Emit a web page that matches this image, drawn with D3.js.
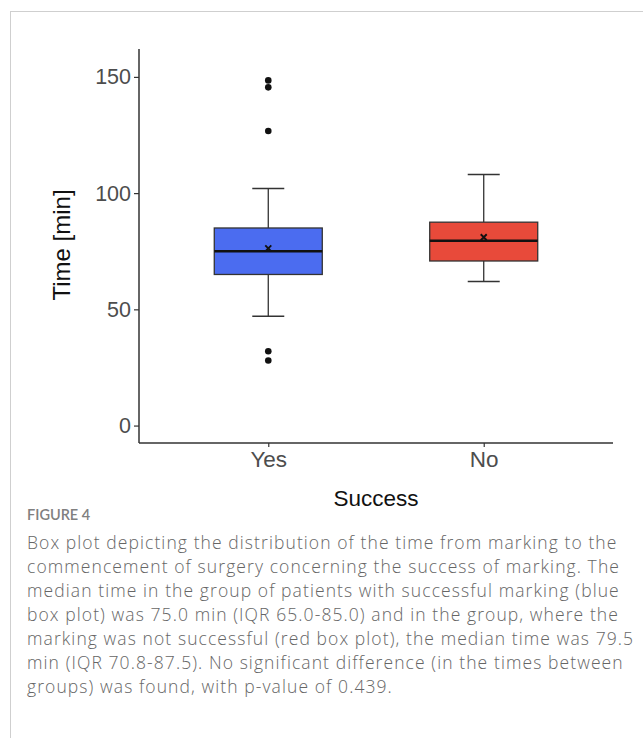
<!DOCTYPE html>
<html><head><meta charset="utf-8">
<script src="https://cdn.jsdelivr.net/npm/d3@7"></script>
<style>
body{margin:0;background:#fff;}
svg{display:block;}
</style></head>
<body>
<svg id="chart" width="643" height="738"></svg>
<script>
const categories = ["Yes", "No"];
const whiskerLow = [47, 62];
const q1 = [65, 70.8];
const medians = [75, 79.5];
const q3 = [85, 87.5];
const whiskerHigh = [102, 108];
const means = [76.2, 81];
const outliers = [[28, 32, 126.7, 145.5, 148.5], []];
const fills = ["#4b6cf0", "#e84a3a"];
const yTicks = [0, 50, 100, 150];
const captionTitle = "FIGURE 4";
const captionLines = [
  "Box plot depicting the distribution of the time from marking to the",
  "commencement of surgery concerning the success of marking. The",
  "median time in the group of patients with successful marking (blue",
  "box plot) was 75.0 min (IQR 65.0-85.0) and in the group, where the",
  "marking was not successful (red box plot), the median time was 79.5",
  "min (IQR 70.8-87.5). No significant difference (in the times between",
  "groups) was found, with p-value of 0.439."
];

const svg = d3.select("#chart");
svg.append("line").attr("x1",10).attr("y1",11.5).attr("x2",643).attr("y2",11.5).attr("stroke","#cfcfcf").attr("stroke-width",1);
svg.append("line").attr("x1",10.5).attr("y1",11).attr("x2",10.5).attr("y2",738).attr("stroke","#cfcfcf").attr("stroke-width",1);

const pL = 139, pR = 613, pT = 49, pB = 443;
const x = d3.scalePoint().domain(categories).range([pL, pR]).padding(0.6);
const y = d3.scaleLinear().domain([-7.5, 162]).range([pB, pT]);

const g = svg.append("g");
const boxW = 108, capW = 32;
const AX = "Liberation Sans, Arial, sans-serif";

categories.forEach((c, i) => {
  const cx = x(c);
  const gg = g.append("g");
  gg.append("line").attr("x1",cx).attr("x2",cx).attr("y1",y(q3[i])).attr("y2",y(whiskerHigh[i])).attr("stroke","#333").attr("stroke-width",1.3);
  gg.append("line").attr("x1",cx).attr("x2",cx).attr("y1",y(q1[i])).attr("y2",y(whiskerLow[i])).attr("stroke","#333").attr("stroke-width",1.3);
  gg.append("line").attr("x1",cx-capW/2).attr("x2",cx+capW/2).attr("y1",y(whiskerHigh[i])).attr("y2",y(whiskerHigh[i])).attr("stroke","#333").attr("stroke-width",1.6);
  gg.append("line").attr("x1",cx-capW/2).attr("x2",cx+capW/2).attr("y1",y(whiskerLow[i])).attr("y2",y(whiskerLow[i])).attr("stroke","#333").attr("stroke-width",1.6);
  gg.append("rect").attr("x",cx-boxW/2).attr("y",y(q3[i])).attr("width",boxW).attr("height",y(q1[i])-y(q3[i]))
    .attr("fill",fills[i]).attr("stroke","#333").attr("stroke-width",1.3);
  gg.append("line").attr("x1",cx-boxW/2).attr("x2",cx+boxW/2).attr("y1",y(medians[i])).attr("y2",y(medians[i])).attr("stroke","#111").attr("stroke-width",2.6);
  const my = y(means[i]), s = 3;
  gg.append("path").attr("d",`M${cx-s},${my-s}L${cx+s},${my+s}M${cx-s},${my+s}L${cx+s},${my-s}`).attr("stroke","#111").attr("stroke-width",1.9);
  gg.selectAll("circle").data(outliers[i]).join("circle").attr("cx",cx).attr("cy",d=>y(d)).attr("r",3.3).attr("fill","#111");
});

const yAxis = d3.axisLeft(y).tickValues(yTicks).tickSize(5).tickPadding(3);
const ya = svg.append("g").attr("transform",`translate(${pL},0)`).call(yAxis);
ya.select(".domain").attr("d",`M0,${pT}V${pB}`).attr("stroke","#333").attr("stroke-width",1.5);
ya.selectAll(".tick line").attr("stroke","#333").attr("stroke-width",1.2);
ya.selectAll(".tick text").attr("font-family",AX).attr("font-size",21.5).attr("fill","#4d4d4d");

const xAxis = d3.axisBottom(x).tickSize(4).tickPadding(4);
const xa = svg.append("g").attr("transform",`translate(0,${pB})`).call(xAxis);
xa.select(".domain").attr("d",`M${pL},0H${pR}`).attr("stroke","#333").attr("stroke-width",1.5);
xa.selectAll(".tick line").attr("stroke","#333").attr("stroke-width",1.2);
xa.selectAll(".tick text").attr("font-family",AX).attr("font-size",22.5).attr("fill","#4d4d4d");

svg.append("text").attr("transform","translate(70,245) rotate(-90)").attr("text-anchor","middle")
  .attr("font-family",AX).attr("font-size",24).attr("fill","#111").text("Time [min]");
svg.append("text").attr("x",376).attr("y",506).attr("text-anchor","middle")
  .attr("font-family",AX).attr("font-size",22.5).attr("fill","#111").text("Success");

svg.append("text").attr("x",27).attr("y",520).attr("font-family","Lato, sans-serif").attr("font-size",14.5).attr("font-weight",600)
  .attr("fill","#808080").text(captionTitle);
const cap = svg.append("g").selectAll("text").data(captionLines).join("text")
  .attr("x",27).attr("y",(d,i)=>549+i*24).attr("font-family","Open Sans, sans-serif").attr("font-size",17.5).attr("font-weight",300)
  .attr("fill","#666").text(d=>d);
// spread letters so the second line spans the same width as in the reference
const n1 = cap.nodes()[1];
const w = n1.getComputedTextLength();
const ls = (593 - w) / captionLines[1].length;
cap.attr("letter-spacing", ls);
</script>
</body></html>
